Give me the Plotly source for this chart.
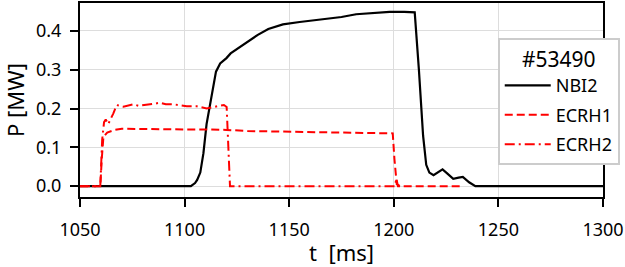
import plotly.graph_objects as go

# ---- data ----
nbi2_t = [1050, 1103, 1105, 1106, 1107.5, 1109, 1110.5, 1112.5, 1115, 1117, 1120, 1122, 1126, 1130,
          1135, 1140, 1147, 1155, 1165, 1175, 1182, 1190, 1198, 1205, 1210, 1212, 1214, 1215.5,
          1217, 1219, 1221, 1223.3, 1225.5, 1228.4, 1231, 1233, 1236, 1239, 1300]
nbi2_p = [0, 0, 0.008, 0.016, 0.035, 0.085, 0.16, 0.22, 0.295, 0.316, 0.33, 0.342, 0.357, 0.372,
          0.39, 0.405, 0.417, 0.423, 0.43, 0.436, 0.443, 0.446, 0.449, 0.449, 0.448, 0.3, 0.13, 0.055,
          0.035, 0.028, 0.034, 0.043, 0.033, 0.019, 0.022, 0.024, 0.01, 0, 0]

ecrh1_t = [1050, 1059.7, 1060.4, 1061.2, 1063, 1066.7, 1070, 1080, 1090, 1100, 1110, 1120, 1130,
           1140, 1150, 1160, 1170, 1180, 1190, 1199.5, 1200.3, 1201.4, 1203, 1232]
ecrh1_p = [0, 0, 0.07, 0.127, 0.138, 0.145, 0.148, 0.147, 0.147, 0.146, 0.146, 0.145, 0.142,
           0.141, 0.14, 0.139, 0.139, 0.138, 0.137, 0.136, 0.07, 0.005, 0, 0]

ecrh2_t = [1050, 1059.7, 1060.6, 1061.5, 1062.3, 1063.5, 1065.9, 1067.5, 1070.7, 1073, 1075.5,
           1078, 1081.9, 1085, 1088.2, 1091, 1094.6, 1098, 1101, 1105.8, 1108, 1110.6, 1113.8,
           1117, 1118.8, 1120.1, 1120.9, 1121.7, 1200.6, 1201.2, 1202, 1203]
ecrh2_p = [0, 0, 0.12, 0.165, 0.172, 0.16, 0.187, 0.209, 0.205, 0.208, 0.211, 0.207, 0.209,
           0.212, 0.215, 0.211, 0.211, 0.208, 0.206, 0.206, 0.203, 0.2, 0.204, 0.206, 0.209,
           0.204, 0.1, 0, 0, 0.02, 0, 0]

x_ticks = [1050, 1100, 1150, 1200, 1250, 1300]
y_ticks = [0.0, 0.1, 0.2, 0.3, 0.4]
y_tick_labels = ["0.0", "0.1", "0.2", "0.3", "0.4"]
shot_label = "#53490"

FONT = "Noto Sans"

fig = go.Figure()
fig.add_trace(go.Scatter(x=nbi2_t, y=nbi2_p, mode="lines", name="NBI2", legendgroup="a",
                         line=dict(color="black", width=2.2)))
fig.add_trace(go.Scatter(x=ecrh1_t, y=ecrh1_p, mode="lines", name="ECRH1", legendgroup="b",
                         line=dict(color="#ff0000", width=2, dash="8px,4px")))
fig.add_trace(go.Scatter(x=ecrh2_t, y=ecrh2_p, mode="lines", name="ECRH2", legendgroup="c",
                         line=dict(color="#ff0000", width=2, dash="10px,4px,2px,4px")))

fig.update_layout(
    width=625, height=267,
    margin=dict(l=80, r=22, t=3, b=70, autoexpand=False),
    paper_bgcolor="white", plot_bgcolor="white",
    font=dict(family=FONT, size=18, color="black"),
    legend=dict(
        x=1.032, xanchor="right", y=0.82, yanchor="top",
        bgcolor="white", bordercolor="#cccccc", borderwidth=2,
        title=dict(text=shot_label, side="top center", font=dict(size=21)),
        font=dict(size=18), tracegroupgap=3, traceorder="grouped", itemwidth=46,
    ),
    showlegend=True,
)
fig.update_xaxes(
    range=[1050, 1300], tickvals=x_ticks, ticks="outside", ticklen=8, tickwidth=2,
    tickcolor="black", showline=True, linecolor="black", linewidth=2, mirror=True,
    showgrid=True, gridcolor="#dddddd", gridwidth=1, zeroline=False, ticklabelstandoff=7,
    title=dict(text="t  [ms]", standoff=8), tickfont=dict(size=18),
)
fig.update_yaxes(
    range=[-0.028, 0.472], tickvals=y_ticks, ticktext=y_tick_labels, ticks="outside", ticklen=8,
    tickwidth=2, tickcolor="black", showline=True, linecolor="black", linewidth=2, mirror=True,
    showgrid=True, gridcolor="#dddddd", gridwidth=1, zeroline=False, ticklabelstandoff=5,
    title=dict(text="P [MW]", standoff=10), tickfont=dict(size=18),
)

fig.write_html("out.html", config={"displayModeBar": False},
               post_script="document.body.style.margin='0';")
